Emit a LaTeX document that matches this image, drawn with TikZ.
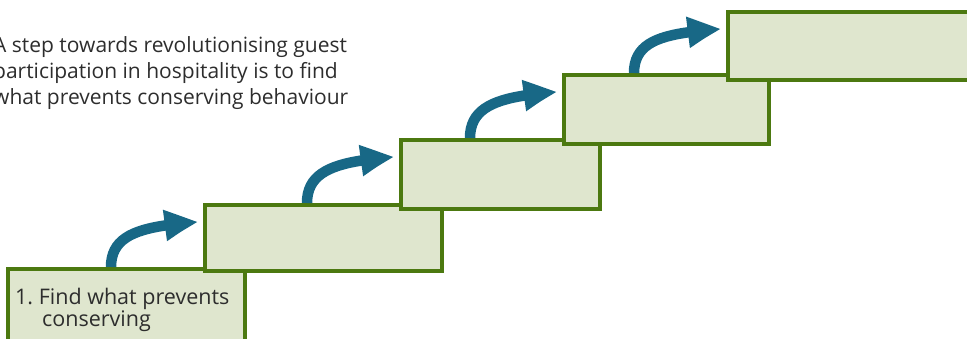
\documentclass[tikz,border=0pt]{standalone}
\usepackage{fontspec}
\setmainfont{Open Sans}
\usetikzlibrary{arrows.meta,calc,bending}
\definecolor{stepline}{RGB}{76,121,16}
\definecolor{stepfill}{RGB}{223,230,206}
\definecolor{flowblue}{RGB}{24,104,134}
\definecolor{inktext}{RGB}{45,45,45}
\tikzset{
  stepbox/.style={draw=stepline, fill=stepfill, line width=4.8pt, rectangle,
    outer sep=0pt, inner sep=0pt, anchor=north west},
  flow/.style={draw=flowblue, line width=10.5pt,
    -{Triangle[length=36pt, width=28pt, bend]}},
}
\begin{document}
\begin{tikzpicture}[x=1pt, y=-1pt]
  \useasboundingbox (0,0) rectangle (967,339);
  \clip (0,0) rectangle (967,339);

  % the five steps of the staircase, each drawn over the one below
  \node[stepbox, minimum width=237pt, minimum height=80pt] (s1) at (8,269) {};
  \node[stepbox, minimum width=237pt, minimum height=66pt] (s2) at (205,205) {};
  \node[stepbox, minimum width=199pt, minimum height=69pt] (s3) at (401,140) {};
  \node[stepbox, minimum width=205pt, minimum height=69pt] (s4) at (564,75) {};
  \node[stepbox, minimum width=280pt, minimum height=68pt] (s5) at (728,12) {};

  % curved arrows climbing from each step to the next
  \draw[flow] ($(s2.north west |- s1.north)+(-94,-2)$)
    .. controls +(0,-34) and +(-55,4) .. ($(s2.north west)+(-6,17)$);
  \draw[flow] ($(s3.north west |- s2.north)+(-94,-2)$)
    .. controls +(0,-34) and +(-55,4) .. ($(s3.north west)+(-6,17)$);
  \draw[flow] ($(s4.north west |- s3.north)+(-94,-2)$)
    .. controls +(0,-34) and +(-55,4) .. ($(s4.north west)+(-6,17)$);
  \draw[flow] ($(s5.north west |- s4.north)+(-94,-2)$)
    .. controls +(0,-34) and +(-55,4) .. ($(s5.north west)+(-6,17)$);

  % caption and first step label (placed by the baseline of their last line)
  \node[anchor=base west, inner sep=0pt, align=left, text=inktext,
        font=\fontsize{21}{26}\selectfont] (intro) at (-7,105)
    {A step towards revolutionising guest\\
     participation in hospitality is to find\\
     what prevents conserving behaviour};
  \node[anchor=base west, inner sep=0pt, align=left, text=inktext,
        font=\fontsize{21.5}{21}\selectfont] (label1) at (15,326)
    {1.\ Find what prevents\\\hspace*{27pt}conserving};
\end{tikzpicture}
\end{document}
